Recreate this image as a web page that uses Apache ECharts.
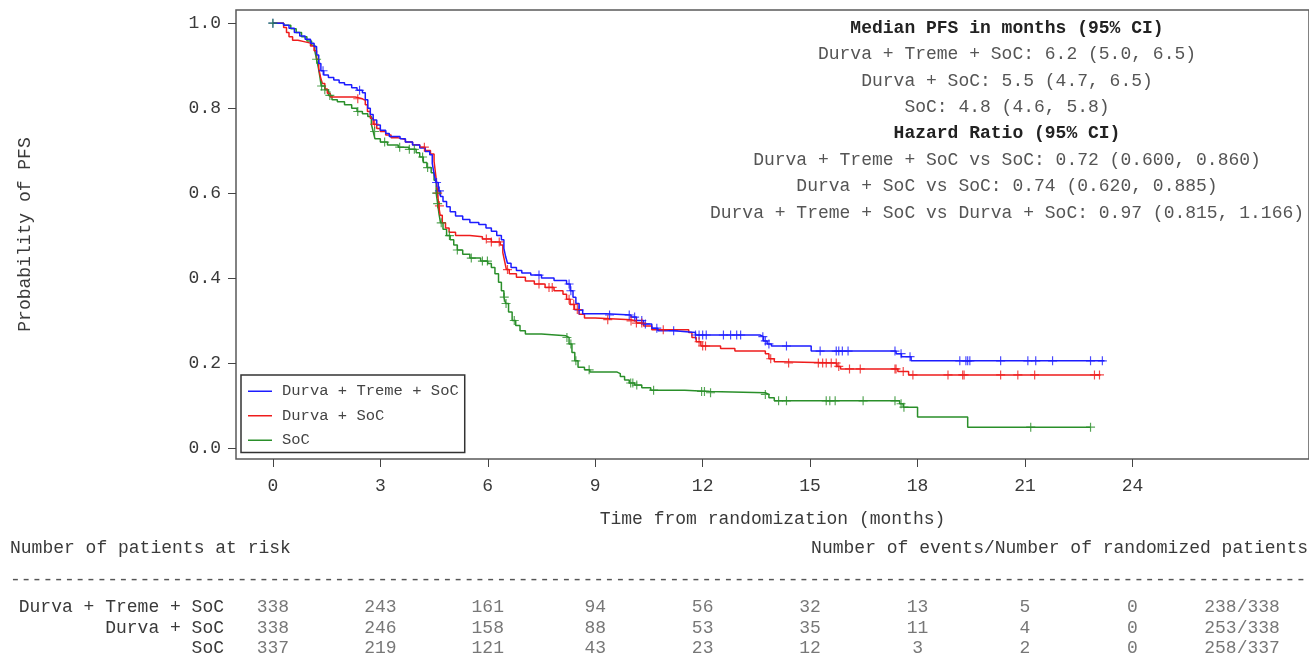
<!DOCTYPE html>
<html>
<head>
<meta charset="utf-8">
<title>PFS Kaplan-Meier</title>
<script src="https://cdn.jsdelivr.net/npm/echarts@6/dist/echarts.min.js"></script>
<style>
  html, body { margin: 0; padding: 0; background: #fff; }
  #chart { width: 1309px; height: 659px; }
</style>
</head>
<body>
<div id="chart"></div>
<script>
const armNames = ['Durva + Treme + SoC', 'Durva + SoC', 'SoC'];
const xTicks = [0, 3, 6, 9, 12, 15, 18, 21, 24];
const yTicks = [0, 0.2, 0.4, 0.6, 0.8, 1.0];

// KM step points [month, survival]
const curveDTS = [[0,1.0],[0.3,0.995],[0.45,0.988],[0.6,0.978],[0.75,0.97],[0.9,0.962],[1.05,0.953],[1.15,0.945],[1.22,0.925],[1.28,0.905],[1.34,0.888],[1.42,0.878],[1.55,0.872],[1.7,0.866],[1.85,0.86],[2.0,0.855],[2.2,0.848],[2.35,0.842],[2.5,0.836],[2.58,0.82],[2.65,0.8],[2.72,0.785],[2.8,0.772],[2.9,0.76],[3.0,0.748],[3.15,0.74],[3.25,0.733],[3.55,0.728],[3.7,0.72],[3.9,0.713],[4.1,0.706],[4.25,0.698],[4.38,0.69],[4.45,0.67],[4.5,0.645],[4.55,0.625],[4.62,0.605],[4.68,0.592],[4.75,0.58],[4.85,0.568],[4.95,0.556],[5.1,0.546],[5.3,0.538],[5.5,0.531],[5.75,0.526],[5.95,0.518],[6.1,0.51],[6.25,0.5],[6.38,0.49],[6.45,0.47],[6.5,0.45],[6.55,0.435],[6.65,0.425],[6.8,0.418],[6.95,0.412],[7.2,0.407],[7.5,0.4],[7.85,0.394],[8.2,0.386],[8.3,0.37],[8.38,0.355],[8.46,0.34],[8.55,0.325],[8.65,0.316],[9.3,0.313],[10.0,0.308],[10.15,0.3],[10.35,0.292],[10.58,0.282],[10.75,0.276],[11.2,0.272],[11.8,0.266],[13.6,0.262],[13.7,0.252],[13.8,0.245],[13.92,0.24],[15.03,0.228],[17.4,0.222],[17.55,0.215],[17.82,0.205],[23.22,0.205]];
const curveDS = [[0,1.0],[0.3,0.99],[0.38,0.978],[0.45,0.968],[0.55,0.96],[0.7,0.956],[0.9,0.953],[1.05,0.946],[1.15,0.935],[1.22,0.915],[1.28,0.893],[1.33,0.873],[1.38,0.858],[1.45,0.845],[1.52,0.835],[1.6,0.826],[2.3,0.822],[2.5,0.818],[2.58,0.808],[2.64,0.792],[2.72,0.776],[2.8,0.762],[2.9,0.752],[3.0,0.745],[3.15,0.737],[3.3,0.73],[3.5,0.726],[3.7,0.72],[3.9,0.714],[4.1,0.708],[4.25,0.7],[4.4,0.692],[4.5,0.675],[4.55,0.64],[4.6,0.6],[4.63,0.57],[4.67,0.548],[4.73,0.53],[4.82,0.518],[4.92,0.508],[5.1,0.5],[5.5,0.497],[5.85,0.492],[6.1,0.485],[6.35,0.478],[6.42,0.46],[6.47,0.44],[6.52,0.42],[6.6,0.41],[6.8,0.402],[7.05,0.393],[7.3,0.386],[7.6,0.378],[7.85,0.37],[8.1,0.362],[8.2,0.35],[8.3,0.338],[8.42,0.326],[8.55,0.315],[8.7,0.306],[9.0,0.302],[10.0,0.299],[10.15,0.294],[10.35,0.287],[10.58,0.278],[11.61,0.272],[11.7,0.26],[11.82,0.25],[11.95,0.24],[12.5,0.234],[12.9,0.228],[13.75,0.222],[13.85,0.21],[14.0,0.203],[14.2,0.2],[15.75,0.192],[15.85,0.186],[17.45,0.18],[17.75,0.172],[23.11,0.172]];
const curveSoC = [[0,1.0],[0.3,0.995],[0.5,0.987],[0.65,0.978],[0.8,0.968],[0.95,0.958],[1.08,0.948],[1.17,0.935],[1.22,0.915],[1.27,0.895],[1.31,0.875],[1.35,0.852],[1.45,0.843],[1.55,0.83],[1.65,0.82],[1.8,0.815],[2.0,0.808],[2.2,0.8],[2.35,0.792],[2.5,0.787],[2.65,0.78],[2.75,0.762],[2.8,0.745],[2.85,0.728],[3.0,0.72],[3.2,0.713],[3.5,0.708],[3.8,0.703],[4.0,0.695],[4.1,0.685],[4.2,0.672],[4.3,0.66],[4.42,0.648],[4.5,0.63],[4.56,0.6],[4.6,0.575],[4.64,0.55],[4.68,0.53],[4.75,0.515],[4.85,0.5],[4.95,0.49],[5.05,0.478],[5.15,0.466],[5.3,0.456],[5.5,0.447],[5.8,0.44],[6.0,0.434],[6.1,0.425],[6.2,0.41],[6.3,0.39],[6.38,0.37],[6.45,0.355],[6.5,0.34],[6.58,0.32],[6.68,0.3],[6.78,0.288],[6.9,0.276],[7.05,0.268],[7.5,0.264],[8.18,0.26],[8.27,0.245],[8.35,0.225],[8.43,0.205],[8.52,0.19],[8.7,0.184],[8.85,0.179],[9.6,0.175],[9.7,0.168],[9.82,0.16],[9.95,0.153],[10.1,0.148],[10.3,0.142],[10.55,0.136],[11.5,0.133],[12.2,0.13],[13.75,0.126],[13.85,0.118],[14.0,0.111],[17.5,0.104],[17.6,0.096],[18.0,0.073],[19.4,0.049],[22.83,0.049]];

// censoring times (months)
const censorDTS = [0, 1.4, 2.42, 4.57, 4.65, 7.43, 8.27, 8.32, 8.55, 9.4, 9.95, 10.1, 10.3, 10.4, 10.72, 11.19, 11.8, 11.9, 12.0, 12.1, 12.58, 12.78, 12.95, 13.06, 13.68, 13.75, 13.85, 14.34, 15.28, 15.73, 15.8, 15.9, 16.06, 17.37, 17.54, 17.79, 19.18, 19.35, 19.4, 19.46, 20.32, 21.08, 21.3, 21.77, 22.83, 23.16];
const censorDS = [2.37, 2.84, 4.23, 4.6, 4.65, 5.96, 6.1, 6.32, 6.55, 7.43, 7.71, 7.8, 8.27, 8.4, 8.5, 9.35, 10.0, 10.15, 10.3, 10.9, 11.9, 12.0, 12.08, 13.9, 14.4, 15.23, 15.35, 15.45, 15.59, 15.73, 15.8, 16.1, 16.4, 17.37, 17.4, 17.6, 17.87, 18.85, 19.26, 19.3, 20.32, 20.8, 21.27, 22.94, 23.08];
const censorSoC = [0, 1.22, 1.36, 1.45, 1.59, 2.37, 2.84, 3.12, 3.54, 3.81, 3.95, 4.18, 4.32, 4.57, 4.6, 4.7, 4.93, 5.15, 5.54, 5.85, 5.99, 6.46, 6.51, 6.74, 8.21, 8.32, 8.46, 8.83, 9.99, 10.05, 10.16, 10.63, 11.97, 12.05, 12.22, 13.75, 14.12, 14.34, 15.45, 15.55, 15.7, 16.48, 17.37, 17.54, 17.62, 21.16, 22.83];

const atRiskDTS = [338, 243, 161, 94, 56, 32, 13, 5, 0];
const atRiskDS = [338, 246, 158, 88, 53, 35, 11, 4, 0];
const atRiskSoC = [337, 219, 121, 43, 23, 12, 3, 2, 0];
const eventsText = ['238/338', '253/338', '258/337'];
const eventsColumnX = 27.06;

const statLines = [
    { text: 'Median PFS in months (95% CI)', bold: true },
    { text: 'Durva + Treme + SoC: 6.2 (5.0, 6.5)' },
    { text: 'Durva + SoC: 5.5 (4.7, 6.5)' },
    { text: 'SoC: 4.8 (4.6, 5.8)' },
    { text: 'Hazard Ratio (95% CI)', bold: true },
    { text: 'Durva + Treme + SoC vs SoC: 0.72 (0.600, 0.860)' },
    { text: 'Durva + SoC vs SoC: 0.74 (0.620, 0.885)' },
    { text: 'Durva + Treme + SoC vs Durva + SoC: 0.97 (0.815, 1.166)' }
];

const colors = ['#1c1cff', '#ee1c1c', '#2a8f2a'];
const curves = [curveDTS, curveDS, curveSoC];
const censors = [censorDTS, censorDS, censorSoC];
const atRisk = [atRiskDTS, atRiskDS, atRiskSoC];

const FONT = '"Liberation Mono", "DejaVu Sans Mono", monospace';
const FS = 18;
const TEXT_COLOR = '#3a3a3a';
const PLUS = 'path://M4,0H5.2V4H9.2V5.2H5.2V9.2H4V5.2H0V4H4Z';

// value of the step curve at time t
function survivalAt(curve, t) {
    let s = curve[0][1];
    for (const p of curve) {
        if (p[0] <= t) s = p[1];
        else break;
    }
    return s;
}

const chart = echarts.init(document.getElementById('chart'));

const curveSeries = armNames.map((name, i) => ({
    name,
    type: 'line',
    step: 'end',
    symbol: 'none',
    data: curves[i],
    lineStyle: { color: colors[i], width: 1.5 },
    itemStyle: { color: colors[i] },
    z: 3 - i
}));

const censorSeries = armNames.map((name, i) => ({
    name: name + ' censored',
    type: 'scatter',
    symbol: PLUS,
    symbolSize: 9,
    data: censors[i].map(t => [t, survivalAt(curves[i], t)]),
    itemStyle: { color: colors[i] },
    silent: true,
    z: 4
}));

const tableData = [];
armNames.forEach((name, r) => {
    atRisk[r].forEach((n, k) => tableData.push([xTicks[k], name, String(n)]));
    tableData.push([eventsColumnX, name, eventsText[r]]);
});

const tableSeries = {
    name: 'table',
    type: 'scatter',
    xAxisIndex: 1,
    yAxisIndex: 1,
    symbolSize: 1,
    itemStyle: { color: 'rgba(0,0,0,0)' },
    data: tableData,
    label: {
        show: true,
        position: 'inside',
        formatter: p => p.value[2],
        fontFamily: FONT,
        fontSize: FS,
        color: '#555'
    },
    silent: true
};

const graphicTexts = statLines.map((line, i) => ({
    type: 'text',
    style: {
        x: 1007,
        y: 28 + i * 26.4,
        text: line.text,
        textAlign: 'center',
        textVerticalAlign: 'middle',
        fontFamily: FONT,
        fontSize: FS,
        fontWeight: line.bold ? 'bold' : 'normal',
        fill: line.bold ? '#222' : '#555'
    }
}));

graphicTexts.push(
    {
        type: 'text',
        style: { x: 10, y: 548, text: 'Number of patients at risk', textVerticalAlign: 'middle',
                 fontFamily: FONT, fontSize: FS, fill: TEXT_COLOR }
    },
    {
        type: 'text',
        style: { x: 1308, y: 548, text: 'Number of events/Number of randomized patients', textAlign: 'right',
                 textVerticalAlign: 'middle', fontFamily: FONT, fontSize: FS, fill: TEXT_COLOR }
    },
    {
        type: 'text',
        style: { x: 10, y: 580, text: '-'.repeat(121), textVerticalAlign: 'middle',
                 fontFamily: FONT, fontSize: FS, fill: '#555' }
    }
);

const option = {
    backgroundColor: '#fff',
    animation: false,
    grid: [
        { left: 236, right: -3, top: 10, bottom: 200, show: true, borderColor: '#5a5a5a', borderWidth: 1.5 },
        { left: 236, right: -3, top: 597, height: 66 }
    ],
    legend: {
        data: armNames,
        orient: 'vertical',
        left: 241,
        top: 375,
        padding: [4, 6, 0, 7],
        icon: 'rect',
        itemWidth: 24,
        itemHeight: 1.5,
        itemGap: 0,
        borderColor: '#333',
        borderWidth: 1.5,
        backgroundColor: '#fff',
        textStyle: { fontFamily: FONT, fontSize: 15.5, lineHeight: 24.5, color: '#444', padding: [0, 0, 0, 5] }
    },
    xAxis: [
        {
            type: 'value',
            gridIndex: 0,
            min: -1.03,
            max: 28.93,
            name: 'Time from randomization (months)',
            nameLocation: 'middle',
            nameGap: 51,
            nameTextStyle: { fontFamily: FONT, fontSize: FS, color: TEXT_COLOR },
            axisLine: { show: false, onZero: false },
            axisTick: { show: true, inside: false, customValues: xTicks, length: 8, lineStyle: { color: '#444' } },
            axisLabel: { customValues: xTicks, margin: 18, fontFamily: FONT, fontSize: FS, color: TEXT_COLOR },
            splitLine: { show: false }
        },
        {
            type: 'value',
            gridIndex: 1,
            min: -1.03,
            max: 28.93,
            show: false
        }
    ],
    yAxis: [
        {
            type: 'value',
            gridIndex: 0,
            min: -0.026,
            max: 1.031,
            name: 'Probability of PFS',
            nameLocation: 'middle',
            nameGap: 202,
            nameTextStyle: { fontFamily: FONT, fontSize: FS, color: TEXT_COLOR },
            axisLine: { show: false, onZero: false },
            axisTick: { show: true, inside: false, customValues: yTicks, length: 8, lineStyle: { color: '#444' } },
            axisLabel: {
                customValues: yTicks,
                margin: 15,
                formatter: v => v.toFixed(1),
                fontFamily: FONT,
                fontSize: FS,
                color: TEXT_COLOR
            },
            splitLine: { show: false }
        },
        {
            type: 'category',
            gridIndex: 1,
            data: armNames,
            inverse: true,
            axisLine: { show: false },
            axisTick: { show: false },
            axisLabel: { interval: 0, margin: 12, fontFamily: FONT, fontSize: FS, color: TEXT_COLOR },
            splitLine: { show: false }
        }
    ],
    graphic: { elements: graphicTexts },
    series: [...curveSeries, ...censorSeries, tableSeries]
};

chart.setOption(option);

window.addEventListener('resize', () => {
    chart.resize();
});
</script>
</body>
</html>
